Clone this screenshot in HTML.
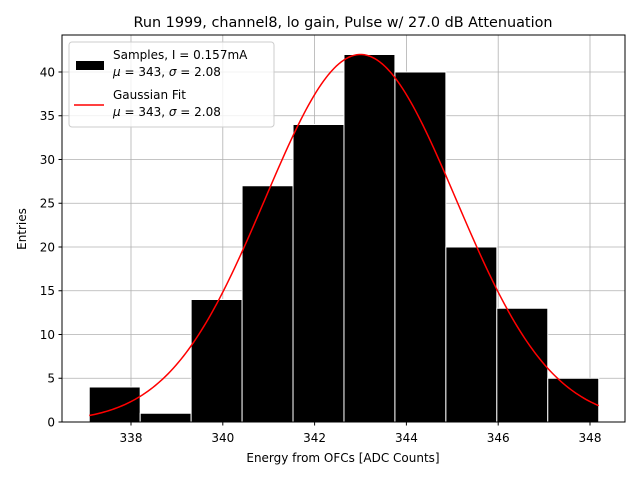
<!DOCTYPE html>
<html><head><meta charset="utf-8"><style>
body{margin:0;background:#fff;}
svg text{font-family:"DejaVu Sans","Liberation Sans",sans-serif;fill:#000;}
</style></head><body>
<svg id="chart" width="640" height="480" xmlns="http://www.w3.org/2000/svg">
<rect width="640" height="480" fill="#fff"/>
<text x="343" y="27" font-size="14.4" text-anchor="middle">Run 1999, channel8, lo gain, Pulse w/ 27.0 dB Attenuation</text>
<g id="grid"></g>
<g id="bars"></g>
<path id="fit" fill="none" stroke="#ff0000" stroke-width="1.5"/>
<rect x="62" y="35" width="563" height="387" fill="none" stroke="#000" stroke-width="1"/>
<g id="ticks"></g>
<text x="343" y="462" font-size="12" text-anchor="middle">Energy from OFCs [ADC Counts]</text>
<text transform="translate(26,229) rotate(-90)" font-size="12" text-anchor="middle">Entries</text>
<g>
<rect x="69" y="42" width="205" height="85" rx="3" fill="#fff" fill-opacity="0.8" stroke="#ccc"/>
<rect x="76" y="61" width="28" height="9" fill="#000"/>
<text x="113" y="59" font-size="12">Samples, I = 0.157mA</text>
<text x="113" y="76" font-size="12"><tspan font-style="italic">μ</tspan> = 343, <tspan font-style="italic">σ</tspan> = 2.08</text>
<line x1="74" y1="105" x2="104" y2="105" stroke="#ff0000" stroke-width="1.5"/>
<text x="113" y="99" font-size="12">Gaussian Fit</text>
<text x="113" y="116" font-size="12"><tspan font-style="italic">μ</tspan> = 343, <tspan font-style="italic">σ</tspan> = 2.08</text>
</g>
</svg>
<script>
const binStart = 337.09;
const binWidth = 1.110;
const counts = [4, 1, 14, 27, 34, 42, 40, 20, 13, 5];
const xTicks = [338, 340, 342, 344, 346, 348];
const yTicks = [0, 5, 10, 15, 20, 25, 30, 35, 40];
const fitMu = 343.0;
const fitSigma = 2.08;
const fitAmp = 42.0;
const NS = "http://www.w3.org/2000/svg";
const X = v => 131 + (v - 338) * 45.9;
const Y = v => 422 - v * 8.75;
function mk(tag, attrs, parent){const e=document.createElementNS(NS,tag);for(const k in attrs)e.setAttribute(k,attrs[k]);parent.appendChild(e);return e;}
const grid=document.getElementById('grid'), bars=document.getElementById('bars'), ticks=document.getElementById('ticks');
xTicks.forEach(t=>{
  const g=mk('line',{x1:X(t),x2:X(t),y1:35,y2:422,stroke:'#b0b0b0','stroke-width':0.8},grid);
  
  
  const tk=mk('line',{x1:X(t),x2:X(t),y1:422,y2:425.5,stroke:'#000'},ticks);
  
  
  const l=mk('text',{x:X(t),y:442,'font-size':12,'text-anchor':'middle'},ticks);
  l.textContent=t;
  
  
});
yTicks.forEach(t=>{
  const g=mk('line',{x1:62,x2:625,y1:Y(t),y2:Y(t),stroke:'#b0b0b0','stroke-width':0.8},grid);
  
  
  const tk=mk('line',{x1:58.5,x2:62,y1:Y(t),y2:Y(t),stroke:'#000'},ticks);
  
  
  const l=mk('text',{x:55,y:Y(t)+4.3,'font-size':12,'text-anchor':'end'},ticks);
  l.textContent=t;
  
  
});
counts.forEach((c,i)=>{
  const x0=X(binStart+i*binWidth), x1=X(binStart+(i+1)*binWidth);
  const r=mk('rect',{x:x0,y:Y(c),width:x1-x0,height:Y(0)-Y(c),fill:'#000',stroke:'#fff','stroke-width':1},bars);
  
  
});
let d='';
const lo=binStart, hi=binStart+counts.length*binWidth;
for(let i=0;i<=200;i++){
  const v=lo+(hi-lo)*i/200;
  const y=fitAmp*Math.exp(-((v-fitMu)**2)/(2*fitSigma*fitSigma));
  d+=(i?'L':'M')+X(v).toFixed(2)+','+Y(y).toFixed(2);
}
document.getElementById('fit').setAttribute('d',d);
</script>
</body></html>
